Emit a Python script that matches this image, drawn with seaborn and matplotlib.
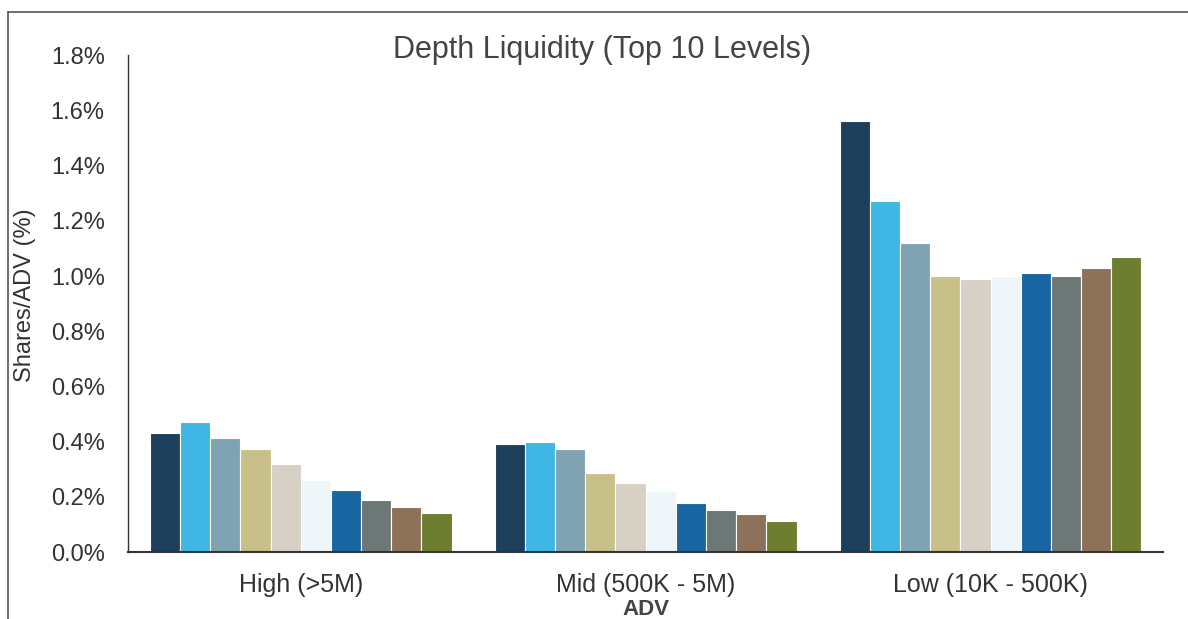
import matplotlib
matplotlib.use("Agg")
import matplotlib.pyplot as plt
from matplotlib.lines import Line2D
from matplotlib.ticker import FuncFormatter
import seaborn as sns
import pandas as pd

# ADV buckets and the ten book levels
categories = ["High (>5M)", "Mid (500K - 5M)", "Low (10K - 500K)"]
levels = [f"Level {i}" for i in range(1, 11)]

# Shares/ADV (%) for each level within each bucket
high_vals = [0.43, 0.47, 0.415, 0.372, 0.32, 0.26, 0.225, 0.19, 0.165, 0.14]
mid_vals = [0.39, 0.40, 0.372, 0.285, 0.25, 0.22, 0.179, 0.152, 0.138, 0.114]
low_vals = [1.56, 1.27, 1.12, 1.0, 0.99, 1.0, 1.01, 1.0, 1.028, 1.07]

level_colors = ["#1C3F5C", "#3FB6E4", "#80A3B3", "#C8C089", "#D6D0C5",
                "#EEF6FA", "#1766A1", "#6C7776", "#8E7159", "#6E7E30"]

rows = []
for cat, vals in zip(categories, [high_vals, mid_vals, low_vals]):
    for lvl, v in zip(levels, vals):
        rows.append({"ADV": cat, "Level": lvl, "Value": v})
df = pd.DataFrame(rows)

sns.set_theme(style="white")
plt.rcParams["font.family"] = ["Liberation Sans", "DejaVu Sans"]

fig = plt.figure(figsize=(11.88, 6.19), dpi=100)
ax = fig.add_axes([0.108, 0.108, 0.871, 0.803])

sns.barplot(data=df, x="ADV", y="Value", hue="Level", order=categories,
            hue_order=levels, palette=level_colors, width=0.875,
            edgecolor="white", linewidth=0.8, saturation=1, legend=False, ax=ax)

ax.set_ylim(0, 1.8)
ax.set_xlim(-0.5, 2.5)
ax.set_yticks([i * 0.2 for i in range(10)])
ax.yaxis.set_major_formatter(FuncFormatter(lambda v, p: f"{v:.1f}%"))
ax.tick_params(axis="y", labelsize=17, labelcolor="#333333", pad=17, length=0)
ax.tick_params(axis="x", labelsize=18, labelcolor="#333333", pad=15, length=0)

for side in ["top", "right"]:
    ax.spines[side].set_visible(False)
ax.spines["left"].set_color("#333333")
ax.spines["left"].set_linewidth(1.0)
ax.spines["bottom"].set_color("#333333")
ax.spines["bottom"].set_linewidth(1.5)

ax.set_ylabel("Shares/ADV (%)", fontsize=17, color="#333333")
ax.yaxis.set_label_coords(-0.089, 0.516)
ax.set_xlabel("ADV", fontsize=16, fontweight="bold", color="#444444", labelpad=1.5)

fig.text(0.507, 0.919, "Depth Liquidity (Top 10 Levels)", fontsize=22,
         color="#444444", ha="center", va="center")

# outer frame lines
fig.add_artist(Line2D([0.007, 0.007], [0.0, 0.981], transform=fig.transFigure,
                      color="#555555", linewidth=1.2))
fig.add_artist(Line2D([0.007, 1.0], [0.981, 0.981], transform=fig.transFigure,
                      color="#555555", linewidth=1.2))

fig.savefig("out.png", dpi=100, facecolor="white")
